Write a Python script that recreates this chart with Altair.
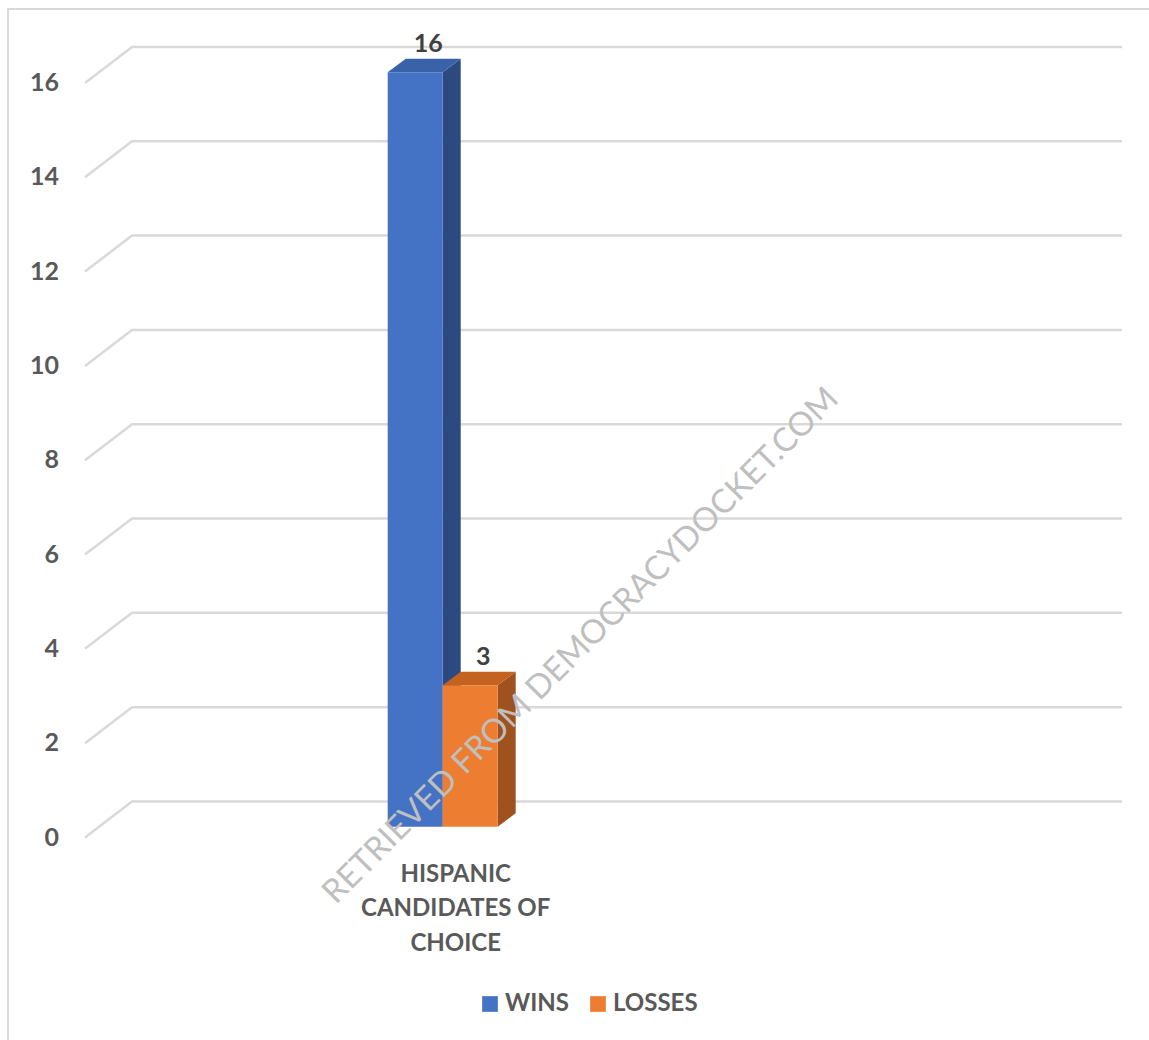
import altair as alt
import pandas as pd

# ---------------- data ----------------
categories = ["HISPANIC\nCANDIDATES OF\nCHOICE"]
series = ["WINS", "LOSSES"]
wins = [16]
losses = [3]
y_ticks = [0, 2, 4, 6, 8, 10, 12, 14, 16]
watermark_text = "RETRIEVED FROM DEMOCRACYDOCKET.COM"

# ---------------- style / geometry ----------------
W, H = 1149, 1040
PX_PER_UNIT = 47.16
Y0_PX = 837.5            # pixel of value 0 on the front plane
FRONT_X = 85
BACK_X = 132
RIGHT_X = 1122
BACK_DY = 36 / PX_PER_UNIT
BAR_BASE = 10.8 / PX_PER_UNIT
BAR_DX = 18
BAR_DY = 13.5 / PX_PER_UNIT
BAR_W = 55
GROUP_LEFT = 387.7
GROUP_STEP = 300

FRONT = ["#4472c4", "#ed7d31"]
TOP = ["#3a62a9", "#c4621f"]
SIDE = ["#2c4a80", "#9e521f"]
GRID = "#d9d9d9"
TXT = "#595959"
FONT = "Lato"

x_scale = alt.Scale(domain=[0, W], range=[0, W], nice=False, zero=False)
y_scale = alt.Scale(domain=[0, 16], range=[Y0_PX, Y0_PX - 16 * PX_PER_UNIT],
                    nice=False, zero=False)

def X(f):
    return alt.X(f, type="quantitative", scale=x_scale, axis=None)

def Y(f):
    return alt.Y(f, type="quantitative", scale=y_scale, axis=None)

# ---------------- tables ----------------
grid_rows = []
for t in y_ticks:
    grid_rows += [
        {"t": t, "k": 0, "x": FRONT_X, "y": t},
        {"t": t, "k": 1, "x": BACK_X, "y": t + BACK_DY},
        {"t": t, "k": 2, "x": RIGHT_X, "y": t + BACK_DY},
    ]
df_grid = pd.DataFrame(grid_rows)
df_ticks = pd.DataFrame({"t": y_ticks, "label": [str(t) for t in y_ticks],
                         "x": [59] * len(y_ticks)})

vals = {"WINS": wins, "LOSSES": losses}
bar_rows, side_rows, top_rows, cat_rows = [], [], [], []
for ci, cat in enumerate(categories):
    g_left = GROUP_LEFT + ci * GROUP_STEP
    cat_rows.append({"cat": cat, "x": g_left + BAR_W + 13, "y": 0})
    for si, s in enumerate(series):
        v = vals[s][ci]
        left = g_left + si * BAR_W
        right = left + BAR_W
        base, top = BAR_BASE, v + BAR_BASE
        bar_rows.append({"series": s, "value": v, "left": left, "right": right,
                         "base": base, "top": top,
                         "lx": (left + right) / 2 + 13, "ly": top + BAR_DY})
        side_rows += [
            {"series": s, "x": right, "lo": base, "hi": top},
            {"series": s, "x": right + BAR_DX, "lo": base + BAR_DY, "hi": top + BAR_DY},
        ]
        top_rows += [
            {"series": s, "y": top, "xl": left, "xr": right},
            {"series": s, "y": top + BAR_DY, "xl": left + BAR_DX, "xr": right + BAR_DX},
        ]
df_bars = pd.DataFrame(bar_rows)
df_side = pd.DataFrame(side_rows)
df_top = pd.DataFrame(top_rows)
df_cat = pd.DataFrame(cat_rows)

# ---------------- layers ----------------
frame = alt.Chart(pd.DataFrame({"a": [0]})).mark_rect(
    fill="white", stroke=GRID, strokeWidth=2
).encode(x=alt.value(8), x2=alt.value(W + 20), y=alt.value(9), y2=alt.value(H + 20))

grid = alt.Chart(df_grid).mark_line(color=GRID, strokeWidth=2.5).encode(
    x=X("x"), y=Y("y"), detail="t:N", order="k:Q")

ticks = alt.Chart(df_ticks).mark_text(
    align="right", baseline="middle", font=FONT, fontWeight="bold",
    fontSize=25, color=TXT
).encode(x=X("x"), y=Y("t"), text="label:N")

sides = alt.Chart(df_side).mark_area(orient="vertical").encode(
    x=X("x"), y=Y("lo"), y2="hi",
    color=alt.Color("series:N", scale=alt.Scale(domain=series, range=SIDE), legend=None))

tops = alt.Chart(df_top).mark_area(orient="horizontal").encode(
    y=Y("y"), x=X("xl"), x2="xr",
    color=alt.Color("series:N", scale=alt.Scale(domain=series, range=TOP), legend=None))

fronts = alt.Chart(df_bars).mark_rect().encode(
    x=X("left"), x2="right", y=Y("base"), y2="top",
    color=alt.Color("series:N", scale=alt.Scale(domain=series, range=FRONT),
                    legend=alt.Legend(
                        orient="none", legendX=478, legendY=992,
                        direction="horizontal", title=None,
                        symbolType="square", symbolSize=246, symbolStrokeWidth=0,
                        labelFont=FONT, labelFontWeight="bold", labelFontSize=24,
                        labelColor=TXT, labelOffset=3, columnPadding=17, padding=0)))

labels = alt.Chart(df_bars).mark_text(
    align="center", baseline="bottom", dy=-2, font=FONT, fontWeight="bold",
    fontSize=25, color="#404040"
).encode(x=X("lx"), y=Y("ly"), text="value:Q")

cat_text = alt.Chart(df_cat).mark_text(
    align="center", baseline="alphabetic", dy=44, lineBreak="\n", lineHeight=34.5,
    font=FONT, fontWeight="bold", fontSize=24, color=TXT
).encode(x=X("x"), y=Y("y"), text="cat:N")

wm = alt.Chart(pd.DataFrame({"w": [watermark_text]})).mark_text(
    align="center", baseline="middle", angle=315, font=FONT, fontSize=33,
    color="#bfbfbf"
).encode(x=alt.value(581), y=alt.value(646), text="w:N")

chart = alt.layer(frame, grid, ticks, sides, tops, fronts, labels, cat_text, wm).resolve_scale(
    color="independent"
).properties(
    width=W, height=H, autosize=alt.AutoSizeParams(type="none"), padding=0,
    background="white"
).configure_view(stroke=None)

chart.save("out.html", embed_options={"renderer": "svg", "actions": False})
